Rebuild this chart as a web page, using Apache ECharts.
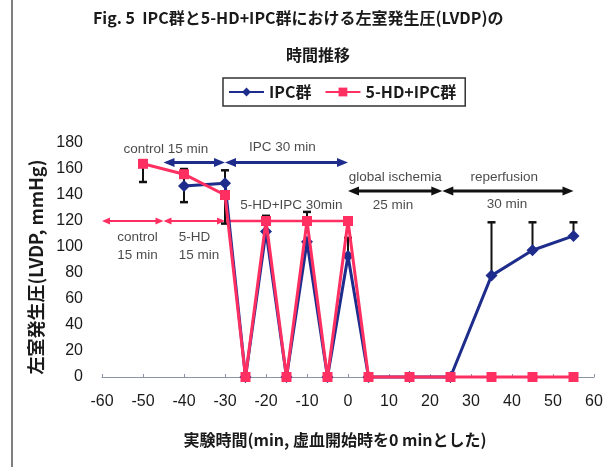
<!DOCTYPE html>
<html>
<head>
<meta charset="utf-8">
<script src="https://cdn.jsdelivr.net/npm/echarts@6/dist/echarts.min.js"></script>
<style>html,body{margin:0;padding:0;background:#fff;}#c{width:612px;height:467px;}</style>
</head>
<body>
<div id="c"></div>
<script>
// ---- data ----
const xTickLabels = [-60, -50, -40, -30, -20, -10, 0, 10, 20, 30, 40, 50, 60];
const yTickLabels = [0, 20, 40, 60, 80, 100, 120, 140, 160, 180];

const seriesNames = ['IPC群', '5-HD+IPC群'];
const ipcX   = [-40, -30, -25, -20, -15, -10, -5, 0, 5, 15, 25, 35, 45, 55];
const ipcY   = [147, 149, 0, 112, 0, 104, 0, 93, 0, 0, 0, 78, 97.5, 108.5];
const hdX    = [-50, -40, -30, -25, -20, -15, -10, -5, 0, 5, 15, 25, 35, 45, 55];
const hdY    = [164, 156, 140, 0, 120, 0, 120, 0, 120, 0, 0, 0, 0, 0, 0];

// error bars: x, low, high
const ipcErrX    = [-40, -30, 0, 35, 45, 55];
const ipcErrLow  = [134.5, 139, 93, 78, 97.5, 108.5];
const ipcErrHigh = [159.5, 159, 107, 119, 119, 119];
const hdErrX     = [-50, -40, -30, -20, -10, 0];
const hdErrLow   = [150, 156, 118, 120, 120, 120];
const hdErrHigh  = [164, 160, 140, 124, 127, 122.5];

// period annotations: [from, to, level]
const ipcPeriods  = [[-45, -30, 165], [-30, 0, 165]];
const ischPeriods = [[0, 23, 143], [23, 55, 143]];
const hdPeriods   = [[-60, -45, 120], [-45, -30, 120]];
const hdIpcPeriod = [[-30, 0, 120]];

const periodTexts = ['control 15 min', 'IPC 30 min', '5-HD+IPC 30min', 'global ischemia', '25 min', 'reperfusion', '30 min'];
const periodTextAt = [[-44.4, 175], [-16, 176.7], [-13.8, 132.3], [11.5, 153.6], [11.0, 132.3], [38.1, 153.6], [38.8, 132.9]];
const leftTexts = ['control\n15 min', '5-HD\n15 min'];
const leftTextAt = [[-56.3, 100.6], [-41.3, 100.6]];

// ---- chart ----
const BLUE = '#1e2d8c', PINK = '#ff2f62';
const chart = echarts.init(document.getElementById('c'), null, {renderer: 'canvas'});

function zip(xs, ys) { return xs.map((x, i) => [x, ys[i]]); }
function zip3(a, b, c) { return a.map((x, i) => [x, b[i], c[i]]); }

function arrowRender(color, lw, headL, headW, heads) {
  return function (params, api) {
    const y = api.value(2);
    const p1 = api.coord([api.value(0), y]);
    const p2 = api.coord([api.value(1), y]);
    const children = [];
    const s = heads ? headL * 0.8 : 0;
    children.push({type: 'line', shape: {x1: p1[0] + s, y1: p1[1], x2: p2[0] - s, y2: p2[1]},
      style: {stroke: color, lineWidth: lw}});
    if (heads) {
      children.push({type: 'polygon', shape: {points: [[p1[0], p1[1]], [p1[0] + headL, p1[1] - headW / 2], [p1[0] + headL, p1[1] + headW / 2]]}, style: {fill: color}});
      children.push({type: 'polygon', shape: {points: [[p2[0], p2[1]], [p2[0] - headL, p2[1] - headW / 2], [p2[0] - headL, p2[1] + headW / 2]]}, style: {fill: color}});
    }
    return {type: 'group', children: children};
  };
}

function errRender(params, api) {
  const x = api.value(0);
  const lo = api.coord([x, api.value(1)]);
  const hi = api.coord([x, api.value(2)]);
  const c = 4;
  return {type: 'group', children: [
    {type: 'line', shape: {x1: lo[0], y1: lo[1], x2: hi[0], y2: hi[1]}, style: {stroke: '#111', lineWidth: 2}},
    {type: 'line', shape: {x1: lo[0] - c, y1: lo[1], x2: lo[0] + c, y2: lo[1]}, style: {stroke: '#111', lineWidth: 2.5}},
    {type: 'line', shape: {x1: hi[0] - c, y1: hi[1], x2: hi[0] + c, y2: hi[1]}, style: {stroke: '#111', lineWidth: 2.5}}
  ]};
}

const textFont = {fontFamily: 'Liberation Sans, Arial, sans-serif', fontSize: 13.5, color: '#1a1a1a'};

const option = {
  backgroundColor: '#fff',
  animation: false,
  title: [
    {text: 'Fig. 5  IPC群と5-HD+IPC群における左室発生圧(LVDP)の', left: 88, top: 5,
      textStyle: {fontFamily: 'Noto Sans CJK JP', fontSize: 16, fontWeight: 'bold', color: '#1a1a1a'}},
    {text: '時間推移', left: 281, top: 42,
      textStyle: {fontFamily: 'Noto Sans CJK JP', fontSize: 16, fontWeight: 'bold', color: '#1a1a1a'}}
  ],
  legend: {
    data: seriesNames,
    left: 223, top: 78,
    padding: [6, 9, 6, 5],
    itemGap: 13, itemWidth: 35, itemHeight: 11,
    borderColor: '#333', borderWidth: 1.5,
    textStyle: {fontFamily: 'Noto Sans CJK JP', fontSize: 16, fontWeight: 'bold', color: '#1a1a1a'}
  },
  grid: {left: 102, right: 18, top: 143, bottom: 90, containLabel: false, outerBoundsMode: 'none'},
  xAxis: {
    type: 'value',
    min: xTickLabels[0], max: xTickLabels[xTickLabels.length - 1],
    interval: xTickLabels[1] - xTickLabels[0],
    name: '実験時間(min, 虚血開始時を0 minとした)',
    nameLocation: 'middle', nameGap: 55,
    nameTextStyle: {fontFamily: 'Noto Sans CJK JP', fontSize: 16, fontWeight: 'bold', color: '#1a1a1a', padding: [0, 26, 0, 0]},
    axisLine: {lineStyle: {color: '#8a94a6', width: 1}},
    axisTick: {show: true, inside: true, length: 3, lineStyle: {color: '#8a94a6'}},
    axisLabel: {margin: 17, fontFamily: 'Liberation Sans, Arial, sans-serif', fontSize: 16, color: '#1a1a1a'},
    splitLine: {show: false}
  },
  yAxis: {
    type: 'value',
    min: yTickLabels[0], max: yTickLabels[yTickLabels.length - 1],
    interval: yTickLabels[1] - yTickLabels[0],
    name: '左室発生圧(LVDP, mmHg)',
    nameLocation: 'middle', nameGap: 55, nameRotate: 90,
    nameTextStyle: {fontFamily: 'Noto Sans CJK JP', fontSize: 18, fontWeight: 'bold', color: '#1a1a1a', padding: [0, 14, 0, 0]},
    axisLine: {show: false},
    axisTick: {show: false},
    axisLabel: {margin: 19, fontFamily: 'Liberation Sans, Arial, sans-serif', fontSize: 16, color: '#1a1a1a'},
    splitLine: {show: false}
  },
  graphic: [
    {type: 'line', shape: {x1: 12, y1: 0, x2: 12, y2: 467}, style: {stroke: '#555', lineWidth: 1.5}}
  ],
  series: [
    {type: 'custom', name: 'hdPeriods', renderItem: arrowRender(PINK, 2, 8, 7, true),
      data: hdPeriods, encode: {x: [0, 1], y: 2}, z: 1, silent: true},
    {type: 'custom', name: 'hdIpcPeriod', renderItem: arrowRender(PINK, 2.5, 0, 0, false),
      data: hdIpcPeriod, encode: {x: [0, 1], y: 2}, z: 1, silent: true},
    {type: 'custom', name: 'ipcPeriods', renderItem: arrowRender(BLUE, 3, 11, 9, true),
      data: ipcPeriods, encode: {x: [0, 1], y: 2}, z: 1, silent: true},
    {type: 'custom', name: 'ischPeriods', renderItem: arrowRender('#111', 3, 11, 9, true),
      data: ischPeriods, encode: {x: [0, 1], y: 2}, z: 1, silent: true},
    {type: 'custom', name: 'ipcErr', renderItem: errRender, data: zip3(ipcErrX, ipcErrLow, ipcErrHigh),
      encode: {x: 0, y: [1, 2]}, z: 2, silent: true},
    {type: 'custom', name: 'hdErr', renderItem: errRender, data: zip3(hdErrX, hdErrLow, hdErrHigh),
      encode: {x: 0, y: [1, 2]}, z: 2, silent: true},
    {type: 'line', name: seriesNames[0], data: zip(ipcX, ipcY), z: 3,
      symbol: 'diamond', symbolSize: 12, clip: false,
      lineStyle: {color: BLUE, width: 3}, itemStyle: {color: BLUE}},
    {type: 'line', name: seriesNames[1], data: zip(hdX, hdY), z: 4,
      symbol: 'rect', symbolSize: 10, clip: false,
      lineStyle: {color: PINK, width: 3}, itemStyle: {color: PINK}},
    {type: 'scatter', name: 'periodText', symbolSize: 0, silent: true, z: 5,
      data: periodTextAt.map((p, i) => ({value: p, label: {formatter: periodTexts[i]}})),
      label: Object.assign({show: true, position: 'inside', align: 'center', verticalAlign: 'middle'}, textFont)},
    {type: 'scatter', name: 'leftText', symbolSize: 0, silent: true, z: 5,
      data: leftTextAt.map((p, i) => ({value: p, label: {formatter: leftTexts[i]}})),
      label: Object.assign({show: true, position: 'inside', align: 'left', verticalAlign: 'middle', lineHeight: 18}, textFont)}
  ]
};
chart.setOption(option);
</script>
</body>
</html>
